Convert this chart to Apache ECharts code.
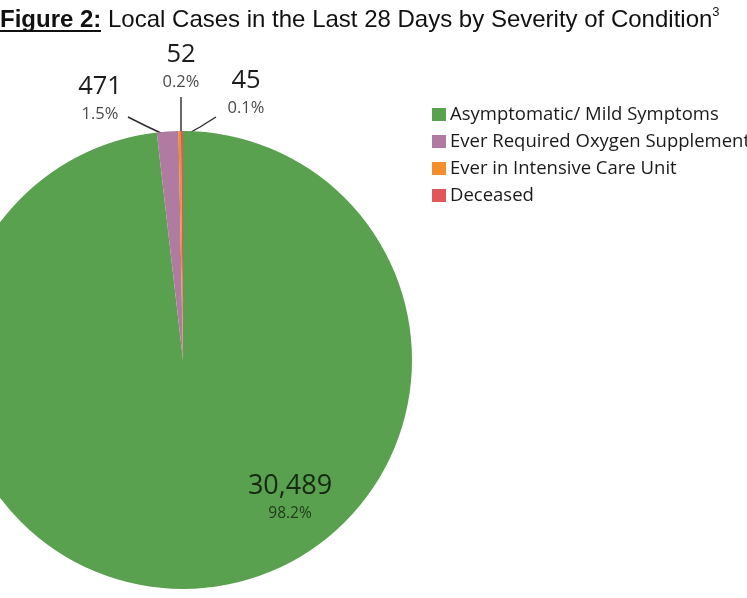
<!DOCTYPE html>
<html>
<head>
<meta charset="utf-8">
<script src="https://cdn.jsdelivr.net/npm/echarts@6/dist/echarts.min.js"></script>
<style>
  html, body { margin: 0; padding: 0; background: #fff; }
  #chart { width: 747px; height: 598px; }
</style>
</head>
<body>
<div id="chart"></div>
<script>
// severity categories, in the order the slices run clockwise from the top
const categories = ['Asymptomatic/ Mild Symptoms', 'Ever Required Oxygen Supplementation', 'Ever in Intensive Care Unit', 'Deceased'];
const cases = [30489, 471, 52, 45];
const colors = ['#59a14f', '#b07aa1', '#f28e2b', '#e15759'];

// where each label block sits (top centre) and its leader line
const labelSpots = [
  { x: 290, y: 471, line: null },
  { x: 100, y: 72, line: [[128, 117], [146, 126], [163, 134]] },
  { x: 181, y: 40, line: [[181, 97], [181, 116], [181, 135]] },
  { x: 246, y: 66, line: [[216, 117], [200, 127], [184, 136]] }
];

const chart = echarts.init(document.getElementById('chart'));

chart.setOption({
  animation: false,
  title: {
    left: 0,
    top: 6,
    padding: 0,
    text: '{b|Figure 2:} Local Cases in the Last 28 Days by Severity of Condition{s|3}',
    textStyle: {
      fontFamily: 'Liberation Sans',
      fontSize: 24,
      fontWeight: 'normal',
      color: '#111',
      rich: {
        b: { fontFamily: 'Liberation Sans', fontSize: 24, fontWeight: 'bold', color: '#111', lineHeight: 28 },
        s: { fontFamily: 'Liberation Sans', fontSize: 13, color: '#111', verticalAlign: 'top', lineHeight: 14 }
      }
    }
  },
  graphic: [
    // underline under "Figure 2:"
    { type: 'line', shape: { x1: 0, y1: 31, x2: 101, y2: 31 }, style: { stroke: '#111', lineWidth: 2 } }
  ],
  legend: {
    orient: 'vertical',
    left: 427,
    top: 100,
    icon: 'rect',
    itemWidth: 14,
    itemHeight: 13,
    itemGap: 8,
    textStyle: { fontFamily: 'Open Sans', fontSize: 18.5, color: '#1a1a1a', padding: [0, 0, 0, -1] },
    data: categories
  },
  color: colors,
  series: [{
    type: 'pie',
    center: [183, 360],
    radius: 229,
    startAngle: 90,
    percentPrecision: 1,
    avoidLabelOverlap: false,
    silent: true,
    itemStyle: { borderWidth: 0 },
    label: {
      show: true,
      formatter: function (p) {
        const key = p.dataIndex === 0 ? 'in' : 'out';
        return '{' + key + 'V|' + p.value.toLocaleString('en-US') + '}\n{' + key + 'P|' + p.percent + '%}';
      },
      rich: {
        outV: { fontFamily: 'Open Sans', fontSize: 25.5, color: '#1c1c1c', lineHeight: 30, align: 'center' },
        outP: { fontFamily: 'Open Sans', fontSize: 16.5, color: '#4a4a4a', lineHeight: 24, align: 'center' },
        inV: { fontFamily: 'Open Sans', fontSize: 27, color: '#15290f', lineHeight: 30, align: 'center' },
        inP: { fontFamily: 'Open Sans', fontSize: 15.5, color: '#223d1c', lineHeight: 26, align: 'center' }
      }
    },
    labelLine: { show: true, lineStyle: { color: '#2a2a2a', width: 1.4 } },
    labelLayout: function (params) {
      const spot = labelSpots[params.dataIndex];
      const out = { x: spot.x, y: spot.y, align: 'center', verticalAlign: 'top', hideOverlap: false };
      if (spot.line) out.labelLinePoints = spot.line;
      return out;
    },
    data: categories.map(function (name, i) {
      return {
        name: name,
        value: cases[i],
        labelLine: { show: labelSpots[i].line !== null }
      };
    })
  }]
});
</script>
</body>
</html>
